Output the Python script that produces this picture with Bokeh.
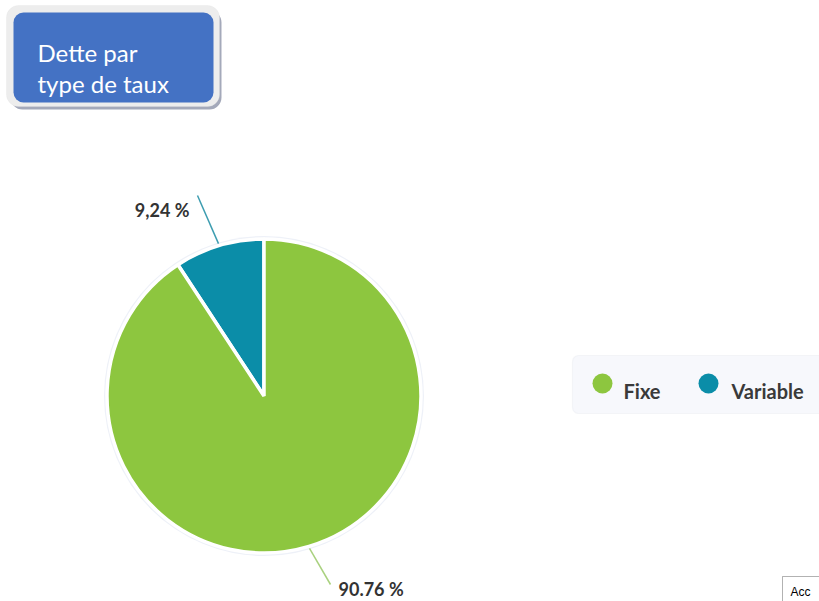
import math
from bokeh.plotting import figure
from bokeh.models import Range1d, BoxAnnotation, ColumnDataSource
from bokeh.core.properties import value
from bokeh.embed import file_html
from bokeh.resources import INLINE

# ---- data ----
categories = ["Fixe", "Variable"]
shares = [90.76, 9.24]
share_labels = ["90.76 %", "9,24 %"]
colors = ["#8DC63F", "#0B8DA8"]
line_colors = ["#A9D17F", "#3D9DB0"]
title_lines = ["Dette par", "type de taux"]
footer_text = "Acc"

W, H = 819, 601
p = figure(width=W, height=H, output_backend="svg", toolbar_location=None,
           x_range=Range1d(0, W), y_range=Range1d(0, H),
           x_axis_type=None, y_axis_type=None, min_border=0,
           outline_line_color=None, background_fill_color="white")
p.grid.visible = False

def Y(wy):
    return 601 - wy

def box(**kw):
    b = BoxAnnotation(level="underlay", fill_alpha=1, **kw)
    p.add_layout(b)
    return b

# ---- title box ----
box(left=10, right=221, top=Y(10), bottom=Y(109), fill_color="#A4A9BA", line_color=None, border_radius=12)
box(left=6, right=219, top=Y(5), bottom=Y(106), fill_color="#EDEDED", line_color="#E2E2E2", border_radius=12)
box(left=13, right=213, top=Y(12), bottom=Y(102), fill_color="#4472C4", line_color=None, border_radius=10)
p.text(x=[37, 37], y=[Y(52), Y(83)], text=title_lines, text_color="white",
       text_font=value("Lato"), text_font_size="24px", text_baseline="alphabetic")

# ---- pie ----
cx, cy, r = 263.5, Y(395.5), 157
p.circle(x=[cx], y=[cy], radius=r + 3, fill_color="#EEF1F8", line_color=None)

order = [1, 0]  # Variable first, starting at 12 o'clock, counter-clockwise
start = 90.0
starts, ends, cols = [], [], []
mids = {}
for i in order:
    span = shares[i] / sum(shares) * 360.0
    starts.append(math.radians(start))
    ends.append(math.radians(start + span))
    cols.append(colors[i])
    mids[i] = math.radians(start + span / 2)
    start += span
src = ColumnDataSource(dict(s=starts, e=ends, c=cols))
p.wedge(x=cx, y=cy, radius=r, start_angle="s", end_angle="e", fill_color="c",
        line_color="white", line_width=3.5, source=src)

# leader lines and labels
label_pos = {1: (189, Y(209), "right"), 0: (338, Y(588), "left")}
line_ends = {1: (197, Y(195)), 0: (330, Y(584))}
for i in [1, 0]:
    a = mids[i]
    sx, sy = cx + (r + 2) * math.cos(a), cy + (r + 2) * math.sin(a)
    ex, ey = line_ends[i]
    p.line(x=[sx, ex], y=[sy, ey], line_color=line_colors[i], line_width=1.5)
    lx, ly, al = label_pos[i]
    p.text(x=[lx], y=[ly], text=[share_labels[i]], text_color="#333333",
           text_font=value("Lato"), text_font_style="bold", text_font_size="18px",
           text_align=al, text_baseline="alphabetic")

# ---- legend ----
box(left=572, right=840, top=Y(355), bottom=Y(413), fill_color="#F7F8FC",
    line_color="#E1E4EC", line_width=1.2, border_radius=6)
leg_x = [602, 708]
leg_text_x = [623, 731]
for k, name in enumerate(categories):
    p.circle(x=[leg_x[k]], y=[Y(383)], radius=10, fill_color=colors[k], line_color=None)
    p.text(x=[leg_text_x[k]], y=[Y(390)], text=[name], text_color="#3A3A3A",
           text_font=value("Lato"), text_font_style="bold", text_font_size="20px",
           text_baseline="alphabetic")

# ---- footer box ----
box(left=782, right=860, top=Y(576), bottom=Y(640), fill_color="white",
    line_color="black", line_width=1)
p.text(x=[790], y=[Y(591)], text=[footer_text], text_color="black",
       text_font=value("Liberation Sans"), text_font_size="12px", text_baseline="alphabetic")

open("out.html", "w").write(file_html(p, INLINE))
